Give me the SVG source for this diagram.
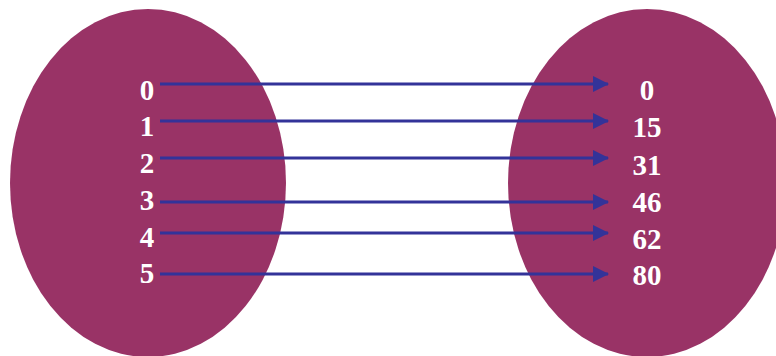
<svg xmlns="http://www.w3.org/2000/svg" width="776" height="356" viewBox="0 0 776 356">
<defs>
<style>
.set{fill:#993366;}
.lbl{fill:#ffffff;font-family:"Liberation Serif","Times New Roman",serif;font-weight:bold;font-size:29px;text-anchor:middle;}
.arr{stroke:#333399;stroke-width:3;fill:none;marker-end:url(#ah);}
</style>
<marker id="ah" markerUnits="userSpaceOnUse" markerWidth="16" markerHeight="16" viewBox="0 0 16 16" refX="15" refY="8" orient="auto">
<path d="M0,0 L16,8 L0,16 Z" fill="#333399"/>
</marker>
</defs>
<g id="domain">
<ellipse class="set" cx="148" cy="183" rx="138" ry="174"/>
<text class="lbl" x="147" y="100">0</text>
<text class="lbl" x="147" y="136">1</text>
<text class="lbl" x="147" y="173">2</text>
<text class="lbl" x="147" y="210">3</text>
<text class="lbl" x="147" y="247">4</text>
<text class="lbl" x="147" y="283">5</text>
</g>
<g id="range">
<ellipse class="set" cx="647" cy="183" rx="139" ry="174"/>
<text class="lbl" x="647" y="100">0</text>
<text class="lbl" x="647" y="137">15</text>
<text class="lbl" x="647" y="175">31</text>
<text class="lbl" x="647" y="212">46</text>
<text class="lbl" x="647" y="249">62</text>
<text class="lbl" x="647" y="285">80</text>
</g>
<g id="connectors">
<line class="arr" x1="160" y1="84" x2="608" y2="84"/>
<line class="arr" x1="160" y1="121" x2="608" y2="121"/>
<line class="arr" x1="160" y1="158" x2="608" y2="158"/>
<line class="arr" x1="160" y1="202" x2="608" y2="202"/>
<line class="arr" x1="160" y1="233" x2="608" y2="233"/>
<line class="arr" x1="160" y1="274" x2="608" y2="274"/>
</g>
</svg>
